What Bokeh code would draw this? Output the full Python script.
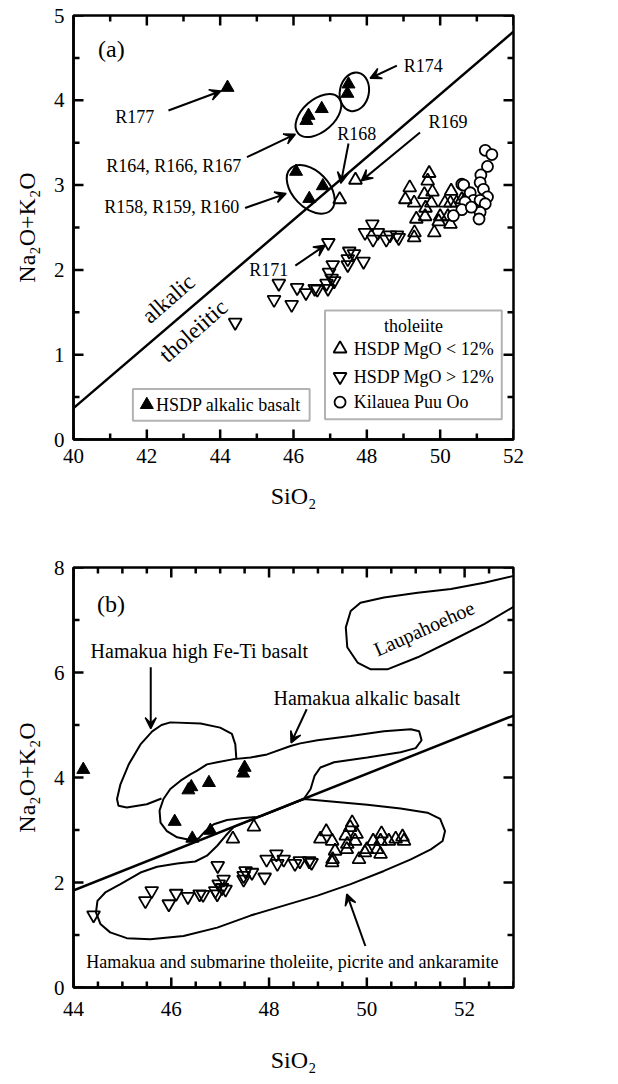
from bokeh.plotting import figure
from bokeh.models import (Range1d, SingleIntervalTicker, Label, Arrow,
                          VeeHead, BoxAnnotation)
from bokeh.layouts import column
from bokeh.embed import file_html
from bokeh.resources import INLINE

FONT = "Liberation Serif"

# ---------------- data ----------------
# HSDP alkalic basalt (solid triangles)
alk_x = [44.2, 47.5, 47.47, 46.41, 46.35, 46.77, 46.07, 46.43, 46.8]
alk_y = [4.15, 4.19, 4.08, 3.82, 3.76, 3.90, 3.16, 2.84, 2.99]

# HSDP tholeiite MgO < 12% (open up-triangles)
lo_x = [47.26, 47.69, 49.05, 49.17, 49.29, 49.35, 49.29, 49.30, 49.57, 49.60, 49.59,
        49.70, 49.66, 49.79, 49.76, 49.84, 50.00, 49.96, 50.13, 50.21, 50.30, 50.28,
        50.28, 50.45, 50.59, 50.73, 50.76]
lo_y = [2.83, 3.06, 2.83, 2.97, 2.79, 2.60, 2.38, 2.44, 2.89, 2.73, 2.63,
        3.14, 3.05, 2.92, 2.79, 2.44, 2.63, 2.57, 2.79, 2.63, 2.93, 2.79,
        2.54, 2.79, 2.83, 2.87, 2.79]

# HSDP tholeiite MgO > 12% (open down-triangles)
hi_x = [44.41, 45.47, 45.60, 45.95, 46.10, 46.34, 46.58, 46.65, 46.95, 46.90, 46.97,
        46.94, 47.07, 47.11, 47.04, 47.48, 47.48, 47.52, 47.65, 47.91, 47.95, 48.15,
        48.17, 48.30, 48.53, 48.63, 48.82, 48.87]
hi_y = [1.38, 1.65, 1.84, 1.59, 1.79, 1.73, 1.78, 1.77, 2.32, 1.84, 1.97,
        1.78, 2.06, 1.87, 1.90, 2.13, 2.06, 2.22, 2.19, 2.10, 2.44, 2.54,
        2.36, 2.44, 2.36, 2.41, 2.41, 2.38]

# Kilauea Puu Oo (open circles)
po_x = [51.23, 51.41, 51.29, 51.11, 50.59, 50.64, 50.82, 51.09, 51.18, 51.29,
        50.91, 50.68, 51.09, 51.23, 50.59, 50.36, 51.09, 51.06, 50.85]
po_y = [3.41, 3.36, 3.22, 3.12, 3.01, 3.00, 2.91, 3.03, 2.95, 2.86,
        2.82, 2.80, 2.82, 2.78, 2.71, 2.64, 2.68, 2.60, 2.74]

# alkalic / tholeiitic divide
divide_x = [40.0, 53.0]
divide_y = [0.37, 5.18]

# panel (b) fields
thol_x = [47.28, 48.71, 49.33, 50.01, 50.69, 51.24, 51.50, 51.60, 51.55, 51.31, 50.90,
          50.35, 49.67, 48.99, 48.30, 47.62, 46.94, 46.25, 45.57, 45.09, 44.75, 44.55,
          44.46, 44.49, 44.65, 44.96, 45.37, 45.71, 46.12, 46.49, 46.73, 46.94, 47.11, 47.28]
thol_y = [3.06, 3.59, 3.54, 3.48, 3.41, 3.33, 3.21, 2.98, 2.79, 2.63, 2.44,
          2.22, 1.97, 1.75, 1.56, 1.37, 1.14, 0.98, 0.92, 0.94, 1.05, 1.21,
          1.43, 1.65, 1.81, 1.97, 2.19, 2.30, 2.36, 2.40, 2.51, 2.70, 2.89, 3.06]

alkf_x = [47.85, 48.71, 48.85, 48.93, 49.05, 49.33, 50.01, 50.69, 51.00, 51.12, 51.07,
          50.90, 50.35, 49.67, 48.99, 48.64, 48.44, 47.96, 47.62, 47.28, 46.94, 46.73,
          46.53, 46.39, 46.19, 45.98, 45.84, 45.76, 45.78, 45.91, 46.12, 46.39, 46.56,
          46.70, 46.87, 47.14, 47.48, 47.76, 47.85]
alkf_y = [3.27, 3.59, 3.78, 4.03, 4.19, 4.29, 4.38, 4.48, 4.56, 4.71, 4.88,
          4.92, 4.88, 4.79, 4.71, 4.65, 4.60, 4.44, 4.38, 4.35, 4.29, 4.25,
          4.13, 4.06, 3.94, 3.78, 3.59, 3.37, 3.14, 2.98, 2.86, 2.81, 2.84,
          2.98, 3.11, 3.19, 3.23, 3.25, 3.27]

feti_x = [45.80, 45.50, 45.09, 44.92, 44.89, 44.96, 45.13, 45.37, 45.61, 45.80,
          45.98, 46.60, 47.00, 47.24, 47.31, 47.33]
feti_y = [3.60, 3.49, 3.43, 3.46, 3.59, 3.87, 4.25, 4.63, 4.88, 5.00,
          5.05, 5.03, 4.95, 4.83, 4.63, 4.37]

laup_x = [53.3, 53.0, 52.40, 51.72, 51.04, 50.35, 49.87, 49.67, 49.57, 49.60, 49.81,
          50.08, 50.42, 51.04, 51.72, 52.40, 53.0, 53.3]
laup_y = [7.90, 7.84, 7.71, 7.59, 7.52, 7.43, 7.33, 7.17, 6.86, 6.48, 6.19,
          6.06, 6.06, 6.29, 6.60, 6.92, 7.25, 7.39]

# tick positions
a_xmajor = [40, 42, 44, 46, 48, 50, 52]
a_xminor = [41, 43, 45, 47, 49, 51]
a_ymajor = [0, 1, 2, 3, 4, 5]
a_yminor = [0.5, 1.5, 2.5, 3.5, 4.5]
b_xmajor = [44, 46, 48, 50, 52]
b_xminor = [44.5, 45, 45.5, 46.5, 47, 47.5, 48.5, 49, 49.5, 50.5, 51, 51.5, 52.5, 53]
b_ymajor = [0, 2, 4, 6, 8]
b_yminor = [1, 3, 5, 7]

FRAME_W = 440


def make_fig(xr, yr, xint, yint, height, mb_top, mb_bottom,
             label_standoff, title_standoff):
    p = figure(width=600, height=height, x_range=Range1d(*xr), y_range=Range1d(*yr),
               output_backend="svg", toolbar_location=None,
               min_border_left=73, min_border_right=87,
               min_border_top=mb_top, min_border_bottom=mb_bottom,
               x_axis_label="SiO\u2082", y_axis_label="Na\u2082O+K\u2082O")
    p.grid.visible = False
    p.outline_line_color = "black"
    p.outline_line_width = 2.5
    p.background_fill_color = "white"
    p.border_fill_color = "white"
    bottom = p.below[0]
    left = p.left[0]
    bottom.ticker = SingleIntervalTicker(interval=xint, num_minor_ticks=0)
    left.ticker = SingleIntervalTicker(interval=yint, num_minor_ticks=0)
    for ax in [bottom, left]:
        ax.axis_line_color = "black"
        ax.axis_line_width = 2.5
        ax.major_tick_in = 0
        ax.major_tick_out = 0
        ax.minor_tick_in = 0
        ax.minor_tick_out = 0
        ax.major_label_text_font = FONT
        ax.major_label_text_color = "black"
        ax.major_label_text_font_size = "21px"
        ax.axis_label_text_font = FONT
        ax.axis_label_text_font_size = "24px"
        ax.axis_label_text_font_style = "normal"
        ax.axis_label_text_color = "black"
    bottom.major_label_standoff = label_standoff
    bottom.axis_label_standoff = title_standoff
    left.major_label_standoff = 9
    left.axis_label_standoff = 11
    return p


def inward_ticks(p, frame_h, xmaj, xmin, ymaj, ymin):
    x0, x1 = p.x_range.start, p.x_range.end
    y0, y1 = p.y_range.start, p.y_range.end
    ux = (x1 - x0) / FRAME_W   # data units per pixel
    uy = (y1 - y0) / frame_h
    for ticks, ln in [(xmaj, 10), (xmin, 6)]:
        n = len(ticks)
        p.segment(x0=ticks, y0=[y0] * n, x1=ticks, y1=[y0 + ln * uy] * n,
                  line_color="black", line_width=2.5)
        p.segment(x0=ticks, y0=[y1] * n, x1=ticks, y1=[y1 - ln * uy] * n,
                  line_color="black", line_width=2.5)
    for ticks, ln in [(ymaj, 10), (ymin, 6)]:
        n = len(ticks)
        p.segment(x0=[x0] * n, y0=ticks, x1=[x0 + ln * ux] * n, y1=ticks,
                  line_color="black", line_width=2.5)
        p.segment(x0=[x1] * n, y0=ticks, x1=[x1 - ln * ux] * n, y1=ticks,
                  line_color="black", line_width=2.5)


def lab(p, x, y, text, size, align="left", angle=0.0):
    p.add_layout(Label(x=x, y=y, text=text, text_font=FONT, text_font_size=size,
                       text_color="black", text_align=align, text_baseline="middle",
                       angle=angle))


def arrow(p, x0, y0, x1, y1):
    p.add_layout(Arrow(end=VeeHead(size=11, fill_color="black", line_color="black",
                                   line_width=1.5),
                       x_start=x0, y_start=y0, x_end=x1, y_end=y1,
                       line_color="black", line_width=2))


def markers(p):
    p.scatter(lo_x, lo_y, marker="triangle", size=13, fill_color=None,
              line_color="black", line_width=1.8)
    p.scatter(hi_x, hi_y, marker="inverted_triangle", size=13, fill_color=None,
              line_color="black", line_width=1.8)
    p.scatter(alk_x, alk_y, marker="triangle", size=13, fill_color="black",
              line_color="black", line_width=1)


# ---------------- panel (a) ----------------
pa = make_fig((40, 52), (0, 5), 2, 1, 540, 15, 101, 9, 17)
inward_ticks(pa, 424, a_xmajor, a_xminor, a_ymajor, a_yminor)
pa.line(divide_x, divide_y, line_color="black", line_width=2.5)
markers(pa)
pa.scatter(po_x, po_y, marker="circle", size=11, fill_color="white",
           line_color="black", line_width=1.8)

# circled groups
pa.ellipse(x=[47.66, 46.68, 46.47], y=[4.10, 3.82, 2.95],
           width=[29, 54, 58], height=[39, 32, 36], angle=[-0.2, 0.72, -0.8],
           width_units="screen", height_units="screen",
           fill_color=None, line_color="black", line_width=2)

lab(pa, 40.67, 4.61, "(a)", "24px")
lab(pa, 41.14, 3.80, "R177", "18px")
lab(pa, 49.01, 4.41, "R174", "18px")
lab(pa, 40.89, 3.23, "R164, R166, R167", "18px")
lab(pa, 47.19, 3.60, "R168", "18px")
lab(pa, 49.68, 3.74, "R169", "18px")
lab(pa, 40.84, 2.74, "R158, R159, R160", "18px")
lab(pa, 44.79, 2.00, "R171", "18px")
lab(pa, 42.59, 1.66, "alkalic", "23px", "center", 0.72)
lab(pa, 43.27, 1.28, "tholeiitic", "23px", "center", 0.72)

arrow(pa, 42.59, 3.88, 44.02, 4.11)
arrow(pa, 48.82, 4.41, 48.09, 4.26)
arrow(pa, 44.73, 3.33, 46.05, 3.60)
arrow(pa, 47.50, 3.49, 47.29, 3.02)
arrow(pa, 49.45, 3.62, 47.85, 3.05)
arrow(pa, 44.68, 2.73, 45.80, 2.90)
arrow(pa, 46.05, 2.05, 46.86, 2.29)

# legend boxes
pa.add_layout(BoxAnnotation(left=41.62, right=46.44, bottom=0.22, top=0.595,
                            fill_color=None, line_color="black", line_width=2))
pa.add_layout(BoxAnnotation(left=46.86, right=51.68, bottom=0.24, top=1.52,
                            fill_color=None, line_color="black", line_width=2))
pa.scatter([42.0], [0.41], marker="triangle", size=13, fill_color="black", line_color="black")
lab(pa, 42.25, 0.41, "HSDP alkalic basalt", "18px")
lab(pa, 49.27, 1.34, "tholeiite", "18px", "center")
pa.scatter([47.27], [1.07], marker="triangle", size=13, fill_color=None,
           line_color="black", line_width=1.8)
pa.scatter([47.27], [0.74], marker="inverted_triangle", size=13, fill_color=None,
           line_color="black", line_width=1.8)
pa.scatter([47.27], [0.44], marker="circle", size=11, fill_color=None,
           line_color="black", line_width=1.8)
lab(pa, 47.64, 1.07, "HSDP MgO < 12%", "18px")
lab(pa, 47.64, 0.74, "HSDP MgO > 12%", "18px")
lab(pa, 47.64, 0.44, "Kilauea Puu Oo", "18px")

# ---------------- panel (b) ----------------
pb = make_fig((44, 53), (0, 8), 2, 2, 544, 27, 97, 14, 28)
inward_ticks(pb, 420, b_xmajor, b_xminor, b_ymajor, b_yminor)
pb.line(divide_x, divide_y, line_color="black", line_width=2.5)
pb.line(thol_x, thol_y, line_color="black", line_width=2)
pb.line(alkf_x, alkf_y, line_color="black", line_width=2)
pb.line(feti_x, feti_y, line_color="black", line_width=2)
pb.line(laup_x, laup_y, line_color="black", line_width=2)
markers(pb)

lab(pb, 44.48, 7.30, "(b)", "24px")
lab(pb, 44.35, 6.41, "Hamakua high Fe-Ti basalt", "20px")
lab(pb, 48.09, 5.52, "Hamakua alkalic basalt", "20px")
lab(pb, 51.17, 6.84, "Laupahoehoe", "20px", "center", 0.42)
lab(pb, 44.26, 0.48, "Hamakua and submarine tholeiite, picrite and ankaramite", "18px")
arrow(pb, 45.58, 6.10, 45.58, 4.93)
arrow(pb, 48.77, 5.30, 48.45, 4.66)
arrow(pb, 49.97, 0.79, 49.59, 1.78)

layout = column(pa, pb)
open("out.html", "w").write(file_html(layout, INLINE))
